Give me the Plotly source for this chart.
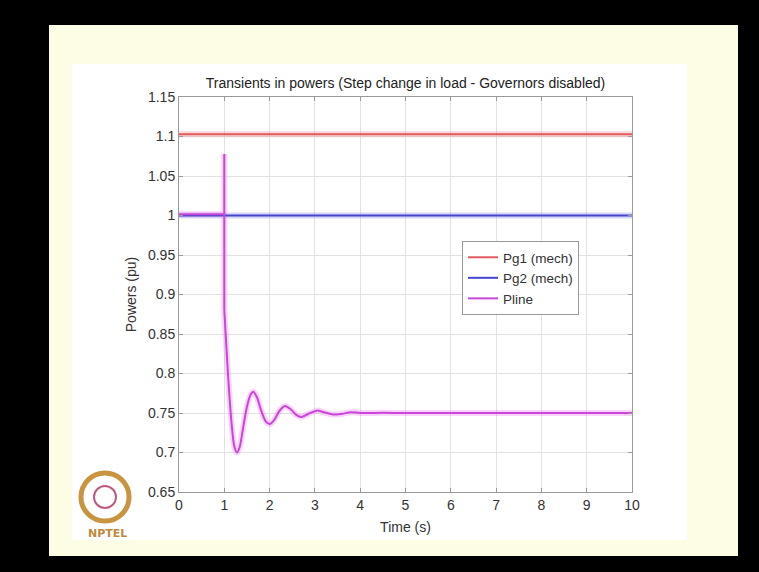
import plotly.graph_objects as go

# ---- data ----
t_const = [0, 10]
pg1 = [1.103, 1.103]
pg2 = [1.0, 1.0]

t_pre = [0, 1.0, 1.0, 1.0]
p_pre = [1.0015, 1.0015, 1.078, 0.88]

t_osc = [1.0, 1.08, 1.16, 1.22, 1.28, 1.34, 1.42, 1.5, 1.58, 1.64, 1.72, 1.82,
         1.92, 2.0, 2.1, 2.22, 2.34, 2.46, 2.58, 2.7, 2.86, 3.04, 3.2, 3.4,
         3.6, 3.8, 4.0, 4.5, 5, 6, 7, 8, 9, 10]
p_osc = [0.88, 0.80, 0.737, 0.708, 0.700, 0.707, 0.733, 0.758, 0.773, 0.777,
         0.770, 0.752, 0.739, 0.736, 0.741, 0.753, 0.759, 0.755, 0.748, 0.745,
         0.749, 0.753, 0.751, 0.748, 0.749, 0.751, 0.750, 0.7502, 0.750, 0.750,
         0.750, 0.750, 0.750, 0.750]

x_ticks = list(range(0, 11))
y_ticks = [0.65, 0.7, 0.75, 0.8, 0.85, 0.9, 0.95, 1.0, 1.05, 1.1, 1.15]
y_labels = ["0.65", "0.7", "0.75", "0.8", "0.85", "0.9", "0.95", "1", "1.05", "1.1", "1.15"]

title = "Transients in powers (Step change in load - Governors disabled)"

RED = "#e05a5e"
BLUE = "#4646cc"
MAG = "#c846d8"
HALO_R = "rgba(240,140,150,0.35)"
HALO_B = "rgba(140,140,240,0.35)"
HALO_M = "rgba(240,130,240,0.35)"

fig = go.Figure()
# halos (video blur look)
fig.add_trace(go.Scatter(x=t_const, y=pg1, mode="lines", line=dict(color=HALO_R, width=6),
                         showlegend=False, hoverinfo="skip"))
fig.add_trace(go.Scatter(x=t_const, y=pg2, mode="lines", line=dict(color=HALO_B, width=6),
                         showlegend=False, hoverinfo="skip"))
fig.add_trace(go.Scatter(x=t_pre, y=p_pre, mode="lines", line=dict(color=HALO_M, width=6),
                         showlegend=False, hoverinfo="skip"))
fig.add_trace(go.Scatter(x=t_osc, y=p_osc, mode="lines", line=dict(color=HALO_M, width=6, shape="spline", smoothing=0.8),
                         showlegend=False, hoverinfo="skip"))
# main lines
fig.add_trace(go.Scatter(x=t_const, y=pg1, mode="lines", name="Pg1 (mech)",
                         line=dict(color=RED, width=2)))
fig.add_trace(go.Scatter(x=t_const, y=pg2, mode="lines", name="Pg2 (mech)",
                         line=dict(color=BLUE, width=2)))
fig.add_trace(go.Scatter(x=t_pre, y=p_pre, mode="lines", name="Pline", legendgroup="pline",
                         line=dict(color=MAG, width=2)))
fig.add_trace(go.Scatter(x=t_osc, y=p_osc, mode="lines", name="Pline", legendgroup="pline",
                         showlegend=False, line=dict(color=MAG, width=2, shape="spline", smoothing=0.8)))

# plot area pixel box: x 179..632, y 97..492 in a 759x572 figure
L, R, T, B = 179, 632, 97, 492
W, H = 759, 572
def px(X):
    return (X - L) / (R - L)
def py(Y):
    return (B - Y) / (B - T)

shapes = [
    dict(type="rect", xref="paper", yref="paper", x0=px(49), x1=px(738), y0=py(556), y1=py(25),
         fillcolor="#fdfde6", line=dict(width=0), layer="below"),
    dict(type="rect", xref="paper", yref="paper", x0=px(72), x1=px(687), y0=py(540), y1=py(64),
         fillcolor="#ffffff", line=dict(width=0), layer="below"),
    # logo ring
    dict(type="circle", xref="paper", yref="paper", x0=px(81), x1=px(129), y0=py(521), y1=py(473),
         line=dict(color="#c89440", width=5), layer="above"),
    dict(type="circle", xref="paper", yref="paper", x0=px(94), x1=px(116), y0=py(508), y1=py(486),
         line=dict(color="#c05a80", width=2), layer="above"),
]

annotations = [
    dict(text="NPTEL", xref="paper", yref="paper", x=px(107), y=py(533), showarrow=False,
         font=dict(family="DejaVu Sans", size=11, color="#c08a3a", weight="bold"),
         xanchor="center", yanchor="middle"),
]

fig.update_layout(
    width=W, height=H,
    margin=dict(l=L, r=W - R, t=T, b=H - B, pad=0),
    paper_bgcolor="#000000",
    plot_bgcolor="#ffffff",
    shapes=shapes,
    annotations=annotations,
    title=dict(text=title, x=(L + R) / 2 / W, xanchor="center", y=1 - 83 / H, yanchor="middle",
               font=dict(family="Liberation Sans", size=14, color="#222222")),
    font=dict(family="Liberation Sans", size=14, color="#333333"),
    legend=dict(x=px(462), y=py(241), xanchor="left", yanchor="top",
                bgcolor="#ffffff", bordercolor="#999999", borderwidth=1,
                font=dict(family="Liberation Sans", size=13.5, color="#333333"),
                tracegroupgap=0, itemwidth=30),
    showlegend=True,
)

fig.update_xaxes(range=[0, 10], tickvals=x_ticks, ticktext=[str(v) for v in x_ticks],
                 showgrid=True, gridcolor="#e2e2e2", gridwidth=1,
                 showline=True, linecolor="#9a9a9a", linewidth=1, mirror="ticks",
                 ticks="inside", ticklen=4, tickcolor="#9a9a9a", zeroline=False,
                 title=dict(text="Time (s)", standoff=10, font=dict(size=14, color="#333333")),
                 tickfont=dict(size=14, color="#333333"))
fig.update_yaxes(range=[0.65, 1.15], tickvals=y_ticks, ticktext=y_labels,
                 showgrid=True, gridcolor="#e2e2e2", gridwidth=1,
                 showline=True, linecolor="#9a9a9a", linewidth=1, mirror="ticks",
                 ticks="inside", ticklen=4, tickcolor="#9a9a9a", zeroline=False,
                 title=dict(text="Powers (pu)", standoff=8, font=dict(size=14, color="#333333")),
                 tickfont=dict(size=14, color="#333333"))

fig.write_html("out.html", config={"displayModeBar": False},
               post_script="document.body.style.margin='0';document.body.style.background='#000';")
